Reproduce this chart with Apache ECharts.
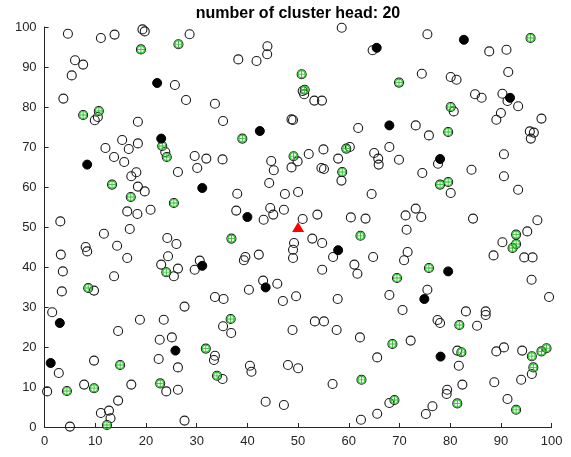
<!DOCTYPE html>
<html>
<head>
<meta charset="utf-8">
<script src="https://cdn.jsdelivr.net/npm/echarts@6/dist/echarts.min.js"></script>
<style>
html,body{margin:0;padding:0;background:#fff;}
#chart{width:571px;height:457px;}
</style>
</head>
<body>
<div id="chart"></div>
<script>
// ordinary sensor nodes
const nodes = [
[4.6,98.3],[11.1,97.25],[13.8,98.1],[19.3,99.4],[19.75,98.9],[28.6,98.2],[6.0,91.7],[7.6,90.6],[5.35,87.9],[25.7,85.5],[3.7,82.1],[27.9,81.75],[33.6,80.8],[9.9,76.7],[10.5,77.5],[18.4,76.3],[15.3,71.75],[18.4,70.9],[12.0,69.75],[16.6,69.5],[23.8,68.75],[13.7,67.5],[15.7,66.25],[29.6,67.75],[31.9,67.1],
[58.6,99.8],[43.95,95.2],[43.9,93.2],[38.2,91.9],[41.8,91.5],[64.7,94.2],[50.9,84.0],[51.2,83.2],[53.2,81.6],[54.7,81.6],[35.2,76.5],[48.7,76.9],[49.0,76.75],[61.85,74.75],[60.2,70.0],[55.0,69.4],[52.1,68.25],[44.7,66.5],[57.9,67.1],[65.0,68.5],[65.8,67.1],[35.1,66.9],
[75.5,98.2],[87.7,93.9],[91.1,94.3],[74.4,88.3],[80.1,87.5],[81.25,86.8],[91.45,88.75],[84.9,83.2],[86.2,82.3],[90.3,83.3],[91.3,81.5],[93.4,80.2],[80.7,78.9],[90.0,78.5],[89.1,76.8],[98.0,77.1],[73.2,75.4],[75.8,72.9],[95.7,73.9],[96.5,73.6],[95.9,72.1],[68.0,70.0],[69.9,66.8],[90.6,68.2],
[17.1,62.7],[18.1,63.7],[26.3,63.75],[30.1,64.75],[18.4,60.1],[19.75,58.9],[16.3,53.9],[18.3,53.25],[20.9,54.3],[3.1,51.4],[16.8,49.5],[11.7,48.3],[24.2,47.25],[26.0,45.75],[14.3,45.3],[8.1,45.0],[8.4,43.9],[3.2,43.1],[16.3,42.25],[24.35,42.7],[23.0,40.6],[25.5,37.7],[26.3,39.6],[29.6,39.3],[30.6,41.6],[3.6,38.9],[13.7,37.7],[3.4,33.9],[9.75,34.1],
[45.2,64.2],[48.7,64.9],[49.9,66.4],[54.6,64.75],[55.1,64.5],[58.55,61.6],[65.9,65.6],[44.3,61.0],[38.0,58.3],[47.4,58.25],[50.0,58.75],[64.5,58.25],[37.8,54.1],[44.5,54.75],[45.1,53.1],[47.2,54.3],[43.2,51.8],[50.9,52.0],[53.8,53.1],[60.4,52.4],[63.3,52.1],[49.2,46.0],[49.0,44.3],[49.0,42.25],[52.8,47.1],[54.75,46.0],[56.9,42.5],[64.8,42.5],[42.25,43.1],[39.6,42.5],[39.3,41.7],[61.1,40.6],[61.7,38.3],[54.75,39.3],[43.1,36.6],[45.9,35.8],[40.3,34.3],
[77.6,65.8],[74.5,63.5],[84.2,64.3],[90.6,62.7],[93.4,59.3],[80.1,58.5],[73.2,54.6],[71.2,52.9],[74.3,52.5],[84.5,52.1],[97.2,51.7],[71.4,49.3],[95.2,48.9],[90.3,46.2],[94.6,42.4],[96.25,42.4],[88.55,42.9],[71.6,43.75],[70.9,41.7],[96.05,36.8],[75.5,34.3],[68.0,33.0],[99.5,32.5],
[1.5,28.7],[27.6,30.1],[18.8,26.8],[23.5,26.8],[14.5,24.0],[22.7,21.8],[25.1,22.4],[2.8,13.5],[9.75,16.6],[22.5,17.0],[26.3,14.9],[33.6,17.8],[33.4,16.75],[35.1,12.0],[0.5,8.9],[7.8,10.6],[17.1,10.6],[24.0,8.9],[26.3,9.3],[14.5,6.6],[11.1,3.5],[12.7,4.1],[13.0,2.2],[5.0,0.1],[27.6,1.6],
[33.6,32.5],[35.3,32.0],[47.0,31.5],[49.6,32.7],[57.8,32.0],[35.2,25.2],[36.8,23.5],[48.9,24.25],[53.3,26.4],[55.1,26.4],[57.6,24.25],[62.2,22.4],[65.6,17.4],[40.5,15.3],[40.8,13.8],[48.0,15.5],[50.0,14.7],[56.8,10.75],[43.6,6.3],[47.2,5.5],[62.4,1.8],[65.6,3.3],
[70.6,29.25],[83.1,28.9],[87.0,28.9],[87.0,28.0],[77.5,26.75],[78.0,26.0],[85.3,25.3],[72.2,21.6],[81.4,19.1],[81.7,15.3],[89.1,18.9],[90.6,19.9],[94.2,19.1],[96.1,13.25],[94.0,11.8],[88.7,11.2],[82.4,10.6],[79.4,9.3],[79.3,8.25],[68.0,6.0],[76.5,5.2],[75.2,3.25],[91.3,7.0]
];
// nodes that already served as cluster heads (green)
const formerHeads = [
[19.0,94.4],[26.4,95.7],[7.6,78.0],[10.7,79.0],[23.2,70.25],[24.1,67.5],
[50.7,88.2],[51.3,84.3],[39.0,72.1],[59.5,69.6],[49.1,67.7],
[95.85,97.25],[69.9,86.1],[80.1,80.0],[79.6,73.75],
[13.3,60.6],[17.0,57.5],[25.5,56.0],[24.0,38.7],[8.6,34.75],
[58.7,63.75],[36.85,47.1],[62.3,47.8],
[78.0,60.6],[79.6,61.25],[93.0,48.1],[93.0,45.75],[92.3,44.75],[75.8,39.75],[69.5,37.25],
[31.8,19.6],[14.9,15.5],[34.0,12.8],[4.4,9.0],[9.75,9.7],[22.8,10.9],[12.3,0.5],
[36.7,27.0],[62.5,11.8],
[81.8,25.5],[68.6,20.75],[82.2,18.7],[96.1,17.7],[98.0,18.9],[99.0,19.7],[96.4,14.9],[69.0,6.75],[81.4,5.9],[93.0,4.3]
];
// current cluster heads (black, 20)
const clusterHeads = [
[22.2,86.0],[23.0,72.1],[8.4,65.6],
[65.5,94.8],[42.45,74.0],
[82.7,96.8],[91.8,82.3],[68.0,75.4],[78.0,67.0],
[31.1,59.75],[31.1,40.3],
[40.0,52.5],[57.9,44.2],[43.6,34.9],
[79.6,38.9],[74.9,32.0],
[3.0,26.0],[25.8,19.1],[1.2,16.0],
[78.1,17.6]
];
// base station
const sink = [[50,50]];
const titleText = 'number of cluster head: 20';

const chart = echarts.init(document.getElementById('chart'), null, {renderer:'canvas'});
const axisCommon = {
  type:'value', min:0, max:100, interval:10,
  axisLine:{show:true, onZero:false, lineStyle:{color:'#262626', width:1}},
  axisTick:{show:true, inside:true, length:4, lineStyle:{color:'#262626'}},
  splitLine:{show:false},
  axisLabel:{color:'#262626', fontSize:13, fontFamily:'Liberation Sans, Arial, sans-serif', margin:8}
};
const ring = {color:'rgba(0,0,0,0)', borderColor:'#1a1a1a', borderWidth:1.1, opacity:1};
chart.setOption({
  animation:false,
  backgroundColor:'#fff',
  grid:{left:44.6, right:19.4, top:27, bottom:30, containLabel:false},
  xAxis:axisCommon,
  yAxis:axisCommon,
  graphic:[{
    type:'text', x:298, y:6,
    style:{text:titleText, align:'center', verticalAlign:'top',
      font:'bold 16px "Liberation Sans", Arial, sans-serif', fill:'#000'}
  }],
  series:[
    {type:'scatter', data:nodes, symbol:'circle', symbolSize:9, itemStyle:ring, silent:true},
    {type:'scatter', data:formerHeads, symbol:'circle', symbolSize:9, itemStyle:ring, silent:true},
    {type:'scatter', data:formerHeads, symbol:'circle', symbolSize:7,
      itemStyle:{color:'rgba(0,0,0,0)', borderColor:'#2ecc2e', borderWidth:1.2, opacity:1}, silent:true},
    {type:'scatter', data:formerHeads, symbol:'path://M4.4,0H5.6V10H4.4Z M0,4.4H10V5.6H0Z', symbolSize:7,
      itemStyle:{color:'#22bb22', opacity:1}, silent:true},
    {type:'scatter', data:clusterHeads, symbol:'circle', symbolSize:9,
      itemStyle:{color:'#000', borderColor:'#000', borderWidth:1, opacity:1}, silent:true},
    {type:'scatter', data:sink, symbol:'triangle', symbolSize:[12,10],
      itemStyle:{color:'#ff0000', opacity:1}, silent:true}
  ]
});
</script>
</body>
</html>
